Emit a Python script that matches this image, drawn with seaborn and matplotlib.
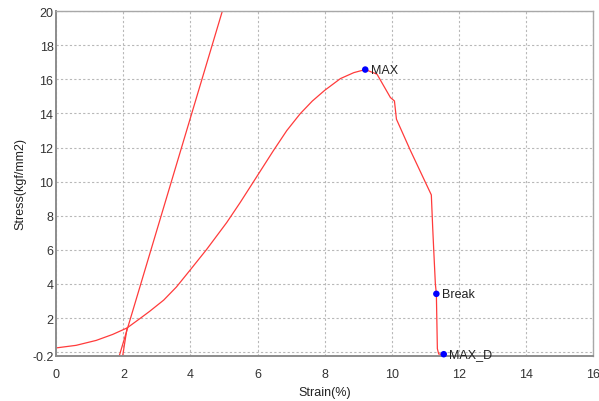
import matplotlib
matplotlib.use("Agg")
import matplotlib.pyplot as plt
import seaborn as sns
import pandas as pd

# ---- data ----
main_strain = [0.0, 0.59, 1.19, 1.68, 2.11, 2.5, 2.78, 3.2, 3.58, 4.0, 4.48, 5.08, 5.48,
               5.93, 6.47, 6.87, 7.27, 7.63, 8.0, 8.47, 8.87, 9.21, 9.56, 9.96,
               10.08, 10.14, 10.56, 11.18, 11.22, 11.25, 11.30, 11.33, 11.36, 11.40, 11.55]
main_stress = [0.25, 0.40, 0.69, 1.04, 1.42, 1.98, 2.39, 3.05, 3.82, 4.84, 6.02, 7.60, 8.77,
               10.15, 11.81, 12.99, 13.98, 14.72, 15.35, 16.04, 16.39, 16.57, 16.30, 14.93,
               14.73, 13.66, 11.81, 9.22, 7.33, 6.06, 4.01, 3.42, 0.2, -0.11, -0.12]

slope_strain = [1.88, 4.95]
slope_stress = [-0.2, 20.0]

toe_strain = [1.98, 2.11]
toe_stress = [-0.2, 1.42]

point_labels = ["MAX", "Break", "MAX_D"]
point_strain = [9.21, 11.33, 11.55]
point_stress = [16.57, 3.42, -0.12]

x_ticks = [0, 2, 4, 6, 8, 10, 12, 14, 16]
y_ticks = [-0.2, 0, 2, 4, 6, 8, 10, 12, 14, 16, 18, 20]
y_tick_labels = ["-0.2", "", "2", "4", "6", "8", "10", "12", "14", "16", "18", "20"]

# ---- plot ----
sns.set_theme(style="white")
plt.rcParams["font.family"] = ["Liberation Sans", "DejaVu Sans"]

fig = plt.figure(figsize=(5.99, 4.02), dpi=100)
ax = fig.add_axes([0.094, 0.113, 0.896, 0.857])

line_color = "#ff3b3b"
df_main = pd.DataFrame({"strain": main_strain, "stress": main_stress})
df_slope = pd.DataFrame({"strain": slope_strain, "stress": slope_stress})
df_toe = pd.DataFrame({"strain": toe_strain, "stress": toe_stress})
for d in (df_main, df_slope, df_toe):
    sns.lineplot(data=d, x="strain", y="stress", ax=ax, sort=False, estimator=None,
                 color=line_color, lw=0.9)

df_pts = pd.DataFrame({"strain": point_strain, "stress": point_stress, "label": point_labels})
sns.scatterplot(data=df_pts, x="strain", y="stress", ax=ax, color="#0000ff", s=22,
                edgecolor="none", zorder=5, clip_on=False)
for lab, xs, ys in zip(point_labels, point_strain, point_stress):
    ax.annotate(lab, (xs, ys), xytext=(4, 0), textcoords="offset points",
                va="center", ha="left", fontsize=9, color="#222222")

ax.set_xlim(0, 16)
ax.set_ylim(-0.2, 20)
ax.set_xticks(x_ticks)
ax.set_yticks(y_ticks)
ax.set_yticklabels(y_tick_labels)
ax.tick_params(axis="x", length=0, pad=9, labelsize=9, labelcolor="#333333")
ax.tick_params(axis="y", length=0, pad=2, labelsize=9, labelcolor="#333333")
ax.grid(True, color="#b8b8b8", linestyle=(0, (2, 2)), lw=0.8)
ax.set_axisbelow(True)

for side in ("left", "bottom"):
    ax.spines[side].set_color("#8c8c8c")
    ax.spines[side].set_linewidth(1.4)
for side in ("top", "right"):
    ax.spines[side].set_color("#a8a8a8")
    ax.spines[side].set_linewidth(1.0)

ax.set_xlabel("Strain(%)", fontsize=9, color="#222222", labelpad=4)
ax.set_ylabel("Stress(kgf/mm2)", fontsize=9, color="#222222", labelpad=4)

fig.savefig("out.png", dpi=100)
